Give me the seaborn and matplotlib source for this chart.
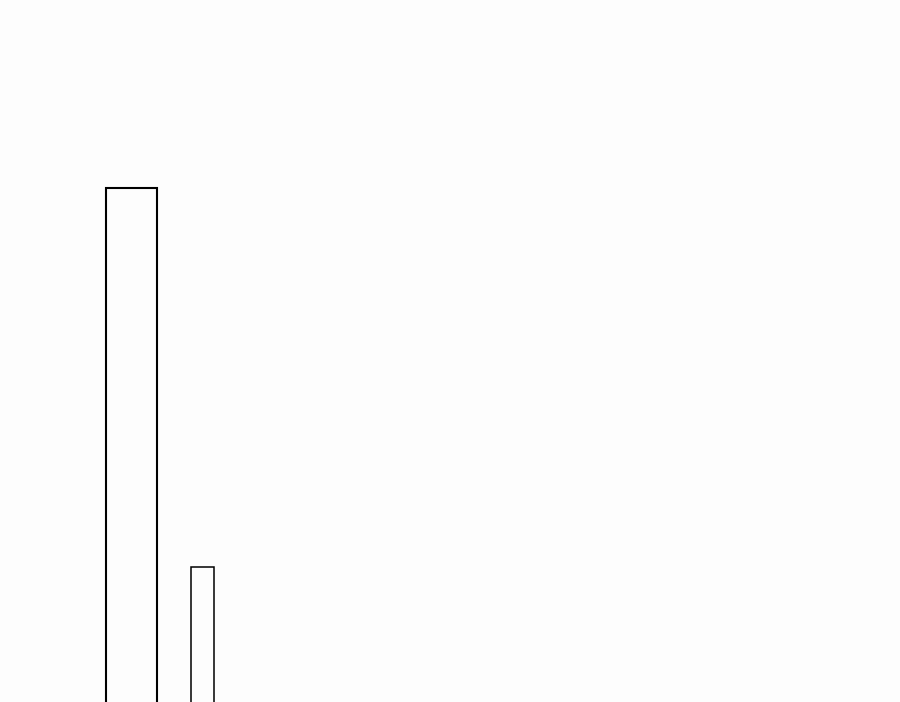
import matplotlib
matplotlib.use("Agg")
import matplotlib.pyplot as plt
import seaborn as sns
import pandas as pd

categories = ["A", "B"]
values = [100, 30]

sns.set_theme(style="white")
df = pd.DataFrame({"category": categories, "value": values})

fig = plt.figure(figsize=(9, 7.02), dpi=100, facecolor="#fdfdfd")
ax = fig.add_axes([0, 0, 1, 1])
ax.set_facecolor("#fdfdfd")
sns.barplot(data=df, x="category", y="value", ax=ax, color="#fdfdfd",
            saturation=1, width=0.7, edgecolor="black")

widths = [0.718, 0.324]
lws = [1.5, 1.1]
for p, w, lw in zip(ax.patches, widths, lws):
    c = p.get_x() + p.get_width() / 2
    p.set_width(w)
    p.set_x(c - w / 2)
    p.set_linewidth(lw)
    p.set_edgecolor("black")
    p.set_facecolor("#fdfdfd")

ax.set_xlim(-1.85, 10.81)
ax.set_ylim(5.1, 134.7)
ax.set_axis_off()
fig.savefig("out.png", dpi=100, facecolor="#fdfdfd")
